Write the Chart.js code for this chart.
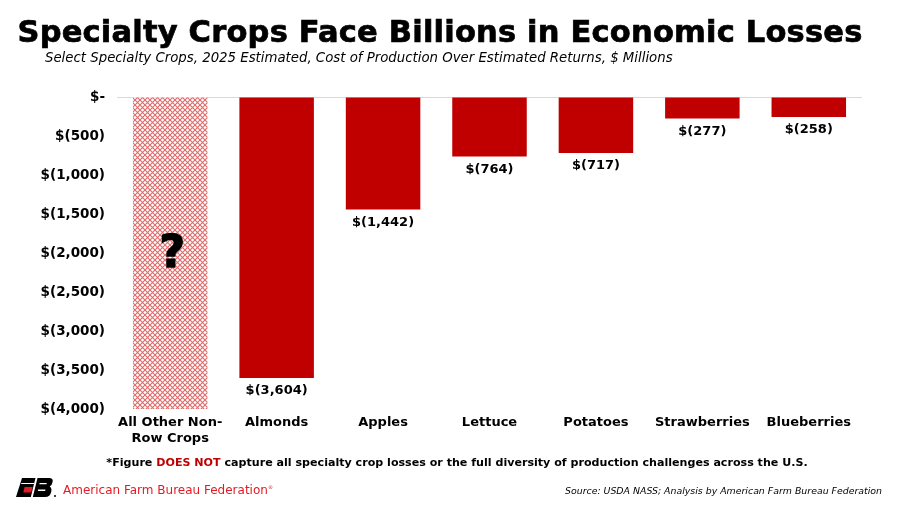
<!DOCTYPE html>
<html><head><meta charset="utf-8">
<script src="https://cdn.jsdelivr.net/npm/chart.js@4"></script>
<style>
html,body{margin:0;padding:0;background:#fff;}
#wrap{position:relative;width:900px;height:506px;overflow:hidden;font-family:"DejaVu Sans",sans-serif;}
#c{position:absolute;left:0;top:0;}
.t{position:absolute;white-space:nowrap;}
</style></head><body>
<div id="wrap">
<canvas id="c" width="900" height="506"></canvas>
<div class="t" id="title" style="left:0;width:880px;text-align:center;top:14px;font-size:30.5px;font-weight:bold;color:#000;letter-spacing:0.2px;-webkit-text-stroke:0.7px #000">Specialty Crops Face Billions in Economic Losses</div>
<div class="t" style="left:45px;top:50px;font-size:13.3px;font-style:italic;color:#000">Select Specialty Crops, 2025 Estimated, Cost of Production Over Estimated Returns, $ Millions</div>
<div class="t" style="left:0;width:914px;text-align:center;top:456px;font-size:11.1px;font-weight:bold;color:#000">*Figure <span style="color:#c00000">DOES NOT</span> capture all specialty crop losses or the full diversity of production challenges across the U.S.</div>
<svg class="t" style="left:16px;top:477px" width="42" height="22" viewBox="0 0 42 22">
<polygon points="6,1 19.5,1 14.8,20 0,20" fill="#000"/>
<polygon points="8.6,10 16.6,10 15.3,15.5 7.3,15.5" fill="#e31b23"/>
<polygon points="5.4,6 18.3,6 18,7 5.1,7" fill="#fff"/>
<path d="M21.5,1 L33,1 Q37.5,1 36.6,5 Q36,8.3 33.6,9.6 Q36,11 35.3,14.5 Q34.3,20 29,20 L16.8,20 Z" fill="#000"/>
<polygon points="23.6,6 30.8,6 30.5,7.2 23.3,7.2" fill="#fff"/>
<polygon points="22.2,12.6 29.5,12.6 29.1,14 21.8,14" fill="#fff"/>
<circle cx="39" cy="19" r="1" fill="#000"/>
</svg>
<div class="t" style="left:63px;top:483px;font-size:12px;color:#e31b23">American Farm Bureau Federation<sup style="font-size:5px">®</sup></div>
<div class="t" style="right:18px;top:485px;font-size:9.4px;font-style:italic;color:#000">Source: USDA NASS; Analysis by American Farm Bureau Federation</div>
</div>
<script>
const categories = [["All Other Non-","Row Crops"],"Almonds","Apples","Lettuce","Potatoes","Strawberries","Blueberries"];
const values = [-4000,-3604,-1442,-764,-717,-277,-258];
const valueLabels = ["?","$(3,604)","$(1,442)","$(764)","$(717)","$(277)","$(258)"];
const tickLabels = {"0":"$-","-500":"$(500)","-1000":"$(1,000)","-1500":"$(1,500)","-2000":"$(2,000)","-2500":"$(2,500)","-3000":"$(3,000)","-3500":"$(3,500)","-4000":"$(4,000)"};

function makePattern(){
  const p=document.createElement('canvas');p.width=5;p.height=5;
  const g=p.getContext('2d');
  g.fillStyle='#ffffff';g.fillRect(0,0,5,5);
  g.strokeStyle='#e06a6a';g.lineWidth=1.1;
  g.beginPath();g.moveTo(0,0);g.lineTo(5,5);g.moveTo(5,0);g.lineTo(0,5);g.stroke();
  return document.getElementById('c').getContext('2d').createPattern(p,'repeat');
}
const pat=makePattern();
const colors = values.map((v,i)=> i===0 ? pat : '#c00000');

const labelPlugin={id:'lbl',afterDatasetsDraw(chart){
  const ctx=chart.ctx;const meta=chart.getDatasetMeta(0);
  ctx.save();ctx.textAlign='center';ctx.textBaseline='middle';ctx.fillStyle='#000';
  meta.data.forEach((bar,i)=>{
    if(i===0){
      ctx.font='bold 44px "DejaVu Sans"';
      const y=chart.scales.y.getPixelForValue(-2000);
      ctx.lineWidth=1.5;ctx.strokeStyle='#000';
      ctx.fillText(valueLabels[i],bar.x+2,y+3);
      ctx.strokeText(valueLabels[i],bar.x+2,y+3);
    } else {
      ctx.font='bold 13px "DejaVu Sans"';
      ctx.fillText(valueLabels[i],bar.x,bar.y+13);
    }
  });
  ctx.restore();
}};

new Chart(document.getElementById('c'),{
  type:'bar',
  data:{labels:categories,datasets:[{data:values,backgroundColor:colors,categoryPercentage:1,barPercentage:0.7}]},
  options:{
    responsive:false,animation:false,
    layout:{padding:{left:0,right:38,top:97,bottom:0}},
    plugins:{legend:{display:false},tooltip:{enabled:false}},
    scales:{
      y:{min:-4000,max:0,
        ticks:{stepSize:500,padding:12,color:'#000',font:{family:'DejaVu Sans',weight:'bold',size:13.5},
          callback:(v)=>tickLabels[String(v)]},
        grid:{drawTicks:false,color:(c)=>c.tick&&c.tick.value===0?'#d9d9d9':'rgba(0,0,0,0)',lineWidth:1},
        border:{display:false},
        afterFit:(s)=>{s.width=117;}
      },
      x:{
        ticks:{color:'#000',padding:6,maxRotation:0,autoSkip:false,font:{family:'DejaVu Sans',weight:'bold',size:13}},
        grid:{display:false,drawTicks:false},
        border:{display:false},
        afterFit:(s)=>{s.height=97;}
      }
    }
  },
  plugins:[labelPlugin]
});
</script>
</body></html>
